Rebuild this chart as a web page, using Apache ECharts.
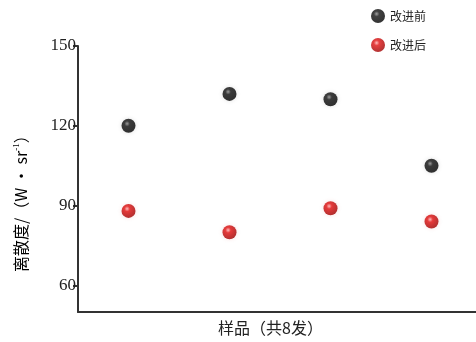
<!DOCTYPE html>
<html>
<head>
<meta charset="utf-8">
<script src="https://cdn.jsdelivr.net/npm/echarts@6/dist/echarts.min.js"></script>
<style>
	html, body { margin: 0; padding: 0; background: #fff; }
	#chart { width: 476px; height: 342px; }
</style>
</head>
<body>
<div id="chart"></div>
<script>
const samples = ['1', '2', '3', '4'];
const before = [120, 132, 130, 105];
const after = [88, 80, 89, 84];
const yTicks = [60, 90, 120, 150];

const serif = '"Liberation Serif", "Noto Sans CJK SC", serif';

function ball(light, mid, dark){
	return {
		type: 'radial', x: 0.4, y: 0.35, r: 0.65,
		colorStops: [
			{offset: 0, color: light},
			{offset: 0.3, color: mid},
			{offset: 1, color: dark}
		]
	};
}

const chart = echarts.init(document.getElementById('chart'));
chart.setOption({
	animation: false,
	grid: {left: 78, right: -6, top: 46, bottom: 30, containLabel: false, outerBoundsMode: 'none'},
	legend: {
		orient: 'vertical',
		left: 366, top: 4,
		itemWidth: 14, itemHeight: 14, itemGap: 15,
		icon: 'circle',
		textStyle: {fontFamily: '"Noto Sans CJK SC"', fontSize: 12, color: '#222'},
		data: ['改进前', '改进后']
	},
	xAxis: {
		type: 'category',
		data: samples,
		boundaryGap: true,
		axisLine: {lineStyle: {color: '#333', width: 2}},
		axisTick: {show: false},
		axisLabel: {show: false},
		splitLine: {show: false}
	},
	yAxis: {
		type: 'value',
		min: 50, max: 150,
		axisLine: {show: true, lineStyle: {color: '#333', width: 2}},
		axisTick: {show: true, length: 5, customValues: yTicks, lineStyle: {color: '#333', width: 2}},
		axisLabel: {customValues: yTicks, margin: 2, fontFamily: serif, fontSize: 17, color: '#222'},
		splitLine: {show: false}
	},
	graphic: [
		{
			type: 'text', x: 218, y: 320,
			style: {text: '样品（共8发）', font: '16px "Noto Sans CJK SC"', fill: '#222'}
		},
		{
			type: 'text', x: 12, y: 272, rotation: Math.PI / 2,
			style: {
				text: '{c|离散度/（W · sr}{s|-1}{c|）}',
				rich: {
					c: {fontFamily: '"Noto Sans CJK SC"', fontSize: 16, color: '#222'},
					s: {fontFamily: serif, fontSize: 9, color: '#222', verticalAlign: 'top', padding: [0, 0, 8, 0]}
				}
			}
		}
	],
	series: [
		{
			name: '改进前', type: 'scatter', data: before,
			symbolSize: 14,
			itemStyle: {color: ball('#8a8a8a', '#111', '#000'), shadowBlur: 4, shadowColor: 'rgba(0,0,0,0.15)'}
		},
		{
			name: '改进后', type: 'scatter', data: after,
			symbolSize: 14,
			itemStyle: {color: ball('#ffb0b0', '#e01010', '#a00000'), shadowBlur: 4, shadowColor: 'rgba(200,0,0,0.15)'}
		}
	]
});
</script>
</body>
</html>
